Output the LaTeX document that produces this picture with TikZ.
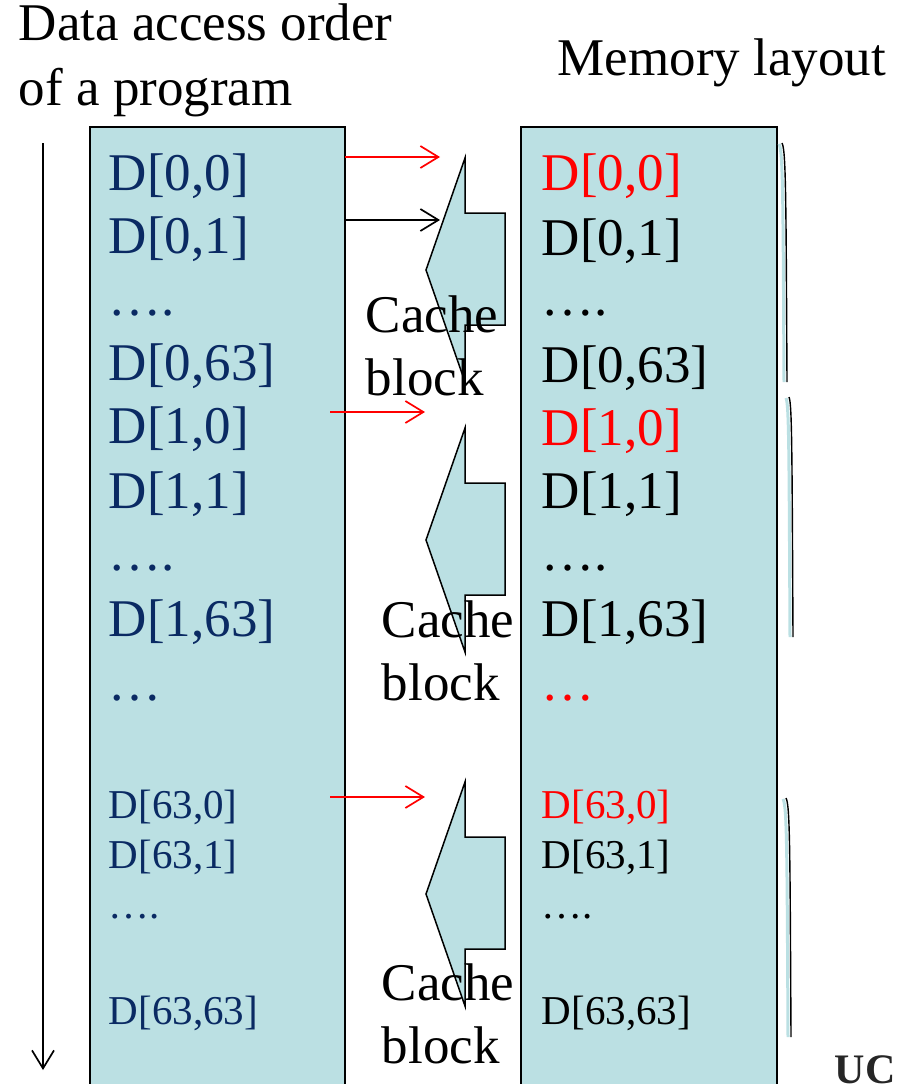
\documentclass[tikz,border=0pt]{standalone}
\usepackage{fontspec}
\setmainfont{Liberation Serif}
\usetikzlibrary{arrows.meta}
\definecolor{blockfill}{HTML}{BBE0E3}
\definecolor{navy}{HTML}{0A2A63}
\tikzset{
  big/.style={font=\fontsize{53}{60}\selectfont},
  small/.style={font=\fontsize{41}{48}\selectfont},
  cell/.style={anchor=base west, inner sep=0pt},
  lane/.style={draw=black, line width=1.6pt, fill=blockfill},
  blk/.style={draw=black, line width=1.5pt, fill=blockfill},
  >={Straight Barb[length=18pt,width=22pt]}
}

\begin{document}
\begin{tikzpicture}[x=1pt, y=-1pt, line width=1.7pt]
  \useasboundingbox (0,0) rectangle (906,1084);
  \clip (0,0) rectangle (906,1084);
  % headings
  \node[cell, big] (hd1) at (18,40) {Data access order};
  \node[cell, big] (hd2) at (18,105) {of a program};
  \node[cell, big] (hd3) at (557,75) {Memory layout};
  % the two lanes
  \draw[lane] (90,127) rectangle (345,1100);
  \draw[lane] (521,127) rectangle (777,1100);
  % time runs downwards
  \coordinate (t0) at (43,143);
  \coordinate (t1) at (43,1070);
  \draw[->] (t0) -- (t1);
  % access order
  \node[cell, big, navy] (a00) at (108,190) {D[0,0]};
  \node[cell, big, navy] (a01) at (108,253) {D[0,1]};
  \node[cell, big, navy] (a0d) at (108,315) {….};
  \node[cell, big, navy] (a063) at (108,380) {D[0,63]};
  \node[cell, big, navy] (a10) at (108,443) {D[1,0]};
  \node[cell, big, navy] (a11) at (108,508) {D[1,1]};
  \node[cell, big, navy] (a1d) at (108,570) {….};
  \node[cell, big, navy] (a163) at (108,636) {D[1,63]};
  \node[cell, big, navy] (add) at (108,700) {…};
  \node[cell, small, navy] (a630) at (108,818) {D[63,0]};
  \node[cell, small, navy] (a631) at (108,868) {D[63,1]};
  \node[cell, small, navy] (a63d) at (108,918) {….};
  \node[cell, small, navy] (a6363) at (108,1024) {D[63,63]};
  % memory layout
  \node[cell, big, red] (m00) at (541,190) {D[0,0]};
  \node[cell, big] (m01) at (541,255) {D[0,1]};
  \node[cell, big] (m0d) at (541,315) {….};
  \node[cell, big] (m063) at (541,382) {D[0,63]};
  \node[cell, big, red] (m10) at (541,445) {D[1,0]};
  \node[cell, big] (m11) at (541,508) {D[1,1]};
  \node[cell, big] (m1d) at (541,570) {….};
  \node[cell, big] (m163) at (541,636) {D[1,63]};
  \node[cell, big, red] (mdd) at (541,700) {…};
  \node[cell, small, red] (m630) at (541,818) {D[63,0]};
  \node[cell, small] (m631) at (541,868) {D[63,1]};
  \node[cell, small] (m63d) at (541,918) {….};
  \node[cell, small] (m6363) at (541,1024) {D[63,63]};
  % cache blocks
  \draw[blk] (465,158) -- ++(0,55) -- ++(40,0) -- ++(0,112) -- ++(-40,0) -- ++(0,57) -- ++(-39,-112) -- cycle;
  \draw[blk] (465,428) -- ++(0,55) -- ++(40,0) -- ++(0,112) -- ++(-40,0) -- ++(0,57) -- ++(-39,-112) -- cycle;
  \draw[blk] (465,782) -- ++(0,55) -- ++(40,0) -- ++(0,112) -- ++(-40,0) -- ++(0,57) -- ++(-39,-112) -- cycle;
  \node[cell, big] (cb1) at (365,332) {Cache};
  \node[cell, big] (cb1b) at (365,395) {block};
  \node[cell, big] (cb2) at (381,637) {Cache};
  \node[cell, big] (cb2b) at (381,700) {block};
  \node[cell, big] (cb3) at (381,1000) {Cache};
  \node[cell, big] (cb3b) at (381,1063) {block};
  % fetches
  \coordinate (f1) at (345,157);
  \coordinate (g1) at (440,157);
  \coordinate (f2) at (345,220);
  \coordinate (g2) at (440,220);
  \coordinate (f3) at (330,412);
  \coordinate (g3) at (425,412);
  \coordinate (f4) at (330,797);
  \coordinate (g4) at (425,797);
  \draw[->, red] (f1) -- (g1);
  \draw[->] (f2) -- (g2);
  \draw[->, red] (f3) -- (g3);
  \draw[->, red] (f4) -- (g4);
  % brackets beside the rows
  \draw[blockfill, line width=3pt] (779,144) .. controls (783,150) and (783,200) .. (784,382);
  \draw[line width=1.4pt] (782,143) .. controls (786,150) and (786,200) .. (787,382);
  \draw[blockfill, line width=3pt] (786,398) .. controls (789,405) and (789,450) .. (790,637);
  \draw[line width=1.4pt] (789,397) .. controls (792,404) and (792,450) .. (793,637);
  \draw[blockfill, line width=3pt] (783,799) .. controls (787,806) and (787,850) .. (788,1037);
  \draw[line width=1.4pt] (786,798) .. controls (790,805) and (790,850) .. (791,1037);
  \node[cell, font=\fontsize{42}{50}\selectfont\bfseries, black!85] (uc) at (834,1083) {UC};
\end{tikzpicture}
\end{document}
